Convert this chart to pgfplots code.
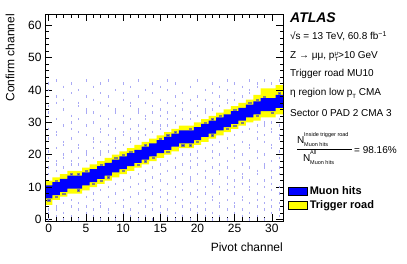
\documentclass[border=0pt]{standalone}
\usepackage{fontspec}
\setmainfont{Liberation Sans}
\usepackage{pgfplots}
\pgfplotsset{compat=1.18}
\usepackage{pgfplotstable}

\definecolor{rootblue}{RGB}{0,0,255}
\definecolor{rootyellow}{RGB}{255,255,0}
\definecolor{dotcol}{RGB}{170,170,245}
\definecolor{darkcell}{RGB}{40,40,215}

% trigger road outline: lower edge left->right, upper edge right->left (const plot)
\pgfplotstableread{
x y
-0.5 4.5
0.5 6
1.5 7
2.5 8
3.5 8
4.5 9
5.5 10
6.5 11
7.5 12
8.5 13
9.5 14
10.5 15
11.5 16
12.5 17
13.5 18
14.5 19
15.5 20
16.5 21
17.5 22
18.5 22
19.5 23
20.5 24
21.5 25
22.5 26
23.5 27
24.5 28
25.5 29
26.5 30
27.5 30.5
28.5 31.5
29.5 31.5
30.5 32.5
31.5 32.5
31.5 41.5
30.5 40.5
29.5 40.5
28.5 38.5
27.5 37
26.5 36
25.5 35
24.5 34
23.5 33
22.5 32
21.5 31
20.5 30
19.5 29
18.5 29
17.5 28
16.5 27
15.5 26
14.5 25
13.5 24
12.5 23
11.5 22
10.5 21
9.5 20
8.5 19
7.5 18
6.5 17
5.5 16
4.5 15
3.5 15
2.5 14
1.5 13
0.5 12
-0.5 4.5
}\road

% muon hits band outline
\pgfplotstableread{
x y
-0.5 6.5
0.5 7.5
1.5 8.5
2.5 9.5
3.5 9.5
4.5 10.5
5.5 11.5
6.5 12.5
7.5 13.5
8.5 14.5
9.5 15.5
10.5 16.5
11.5 17.5
12.5 18.5
13.5 19.5
14.5 20.5
15.5 21.5
16.5 22.5
17.5 23.5
18.5 23.5
19.5 24.5
20.5 25.5
21.5 26.5
22.5 27.5
23.5 28.5
24.5 29.5
25.5 30.5
26.5 31.5
27.5 32.5
28.5 33.5
29.5 33.5
30.5 34.5
31.5 34.5
31.5 38.5
30.5 37.5
29.5 37.5
28.5 36.5
27.5 35.5
26.5 34.5
25.5 33.5
24.5 32.5
23.5 31.5
22.5 30.5
21.5 29.5
20.5 28.5
19.5 27.5
18.5 27.5
17.5 26.5
16.5 25.5
15.5 24.5
14.5 23.5
13.5 22.5
12.5 21.5
11.5 20.5
10.5 19.5
9.5 18.5
8.5 17.5
7.5 16.5
6.5 15.5
5.5 14.5
4.5 13.5
3.5 13.5
2.5 12.5
1.5 11.5
0.5 10.5
-0.5 6.5
}\hits

% small low-count cells next to the muon-hit band
\pgfplotstableread{
p c
0 6
1 12
2 8
3 14
4 9
5 15
6 11
7 17
8 13
9 19
10 15
11 21
12 17
13 23
14 19
15 25
16 21
17 27
18 23
19 28
20 24
21 30
22 26
23 32
24 28
25 34
26 30
27 36
28 32
29 38
30 33
31 39
1 7
4 14
7 12
10 20
13 18
16 26
19 23
22 31
25 29
28 37
}\edgecells

% sparse hits outside the road
\pgfplotstableread{
p c
0 0
0 2
0 3
0 14
0 16
0 19
0 21
0 25
0 28
0 33
0 35
0 40
0 42
1 1
1 3
1 4
1 15
1 17
1 18
1 22
1 26
1 27
1 31
1 36
1 38
1 43
2 0
2 2
2 5
2 16
2 19
2 20
2 23
2 24
2 29
2 34
2 37
2 41
3 1
3 4
3 6
3 17
3 18
3 21
3 25
3 28
3 30
3 32
3 39
3 42
4 0
4 3
4 5
4 17
4 19
4 22
4 23
4 27
4 31
4 35
4 36
4 40
5 2
5 4
5 7
5 18
5 20
5 21
5 26
5 29
5 33
5 34
5 38
5 43
6 1
6 3
6 6
6 8
6 19
6 22
6 24
6 25
6 30
6 33
6 37
6 41
7 0
7 4
7 5
7 9
7 20
7 21
7 24
7 27
7 28
7 32
7 36
7 39
7 42
8 2
8 3
8 7
8 10
8 21
8 23
8 26
8 29
8 31
8 35
8 38
8 43
9 0
9 1
9 5
9 8
9 11
9 22
9 24
9 25
9 28
9 33
9 34
9 40
10 2
10 4
10 6
10 9
10 12
10 23
10 26
10 27
10 30
10 32
10 37
10 39
10 42
11 1
11 3
11 7
11 10
11 13
11 24
11 25
11 28
11 31
11 35
11 36
11 41
12 0
12 2
12 5
12 8
12 11
12 14
12 25
12 27
12 29
12 33
12 34
12 38
12 43
13 1
13 4
13 6
13 9
13 12
13 15
13 26
13 28
13 31
13 32
13 36
13 40
14 0
14 3
14 5
14 8
14 10
14 13
14 16
14 27
14 30
14 33
14 35
14 39
14 42
15 2
15 4
15 7
15 9
15 12
15 14
15 17
15 28
15 29
15 32
15 34
15 37
15 41
16 1
16 3
16 6
16 8
16 11
16 15
16 18
16 29
16 31
16 33
16 36
16 40
16 43
17 0
17 2
17 5
17 7
17 10
17 13
17 16
17 19
17 30
17 32
17 35
17 38
17 42
18 1
18 4
18 6
18 9
18 11
18 14
18 17
18 20
18 31
18 34
18 36
18 39
19 0
19 3
19 5
19 8
19 12
19 13
19 16
19 18
19 20
19 31
19 33
19 37
19 41
20 2
20 4
20 7
20 9
20 11
20 14
20 17
20 19
20 21
20 32
20 35
20 38
20 43
21 1
21 3
21 5
21 8
21 10
21 13
21 15
21 18
21 22
21 33
21 34
21 37
21 40
22 0
22 2
22 6
22 7
22 11
22 12
22 16
22 19
22 21
22 23
22 34
22 36
22 39
22 42
23 1
23 4
23 5
23 8
23 10
23 14
23 15
23 17
23 20
23 24
23 35
23 38
23 41
24 0
24 3
24 6
24 9
24 11
24 13
24 16
24 18
24 22
24 25
24 36
24 37
24 40
24 43
25 2
25 4
25 5
25 8
25 10
25 12
25 15
25 19
25 21
25 23
25 26
25 37
25 39
25 42
26 1
26 3
26 6
26 7
26 11
26 13
26 14
26 17
26 20
26 24
26 27
26 38
26 41
27 0
27 2
27 5
27 9
27 10
27 12
27 16
27 18
27 22
27 23
27 28
27 39
27 40
27 43
28 1
28 4
28 6
28 8
28 11
28 14
28 15
28 19
28 21
28 25
28 27
28 29
28 41
28 42
29 0
29 3
29 5
29 7
29 10
29 12
29 16
29 17
29 20
29 24
29 26
29 29
29 30
29 43
30 2
30 4
30 6
30 9
30 11
30 13
30 15
30 18
30 22
30 23
30 27
30 28
30 30
30 42
31 1
31 3
31 5
31 8
31 10
31 14
31 16
31 19
31 21
31 25
31 26
31 29
31 31
31 43
}\sparsehits

\newcommand{\supsub}[2]{\rlap{\raisebox{0.65ex}{\fontsize{6}{6}\selectfont #1}}\raisebox{-0.45ex}{\fontsize{6}{6}\selectfont #2}}

\begin{document}
\begin{tikzpicture}[x=1pt,y=1pt]
\useasboundingbox (-45,-43) rectangle (362,221);
\begin{axis}[
  scale only axis, width=238pt, height=207pt,
  at={(0,0)}, anchor=south west,
  xmin=-0.5, xmax=31.5, ymin=-0.5, ymax=63.5,
  xtick distance=5, ytick distance=10,
  minor x tick num=4, minor y tick num=4,
  tick align=inside,
  major tick length=7pt, minor tick length=3.5pt,
  tick style={black, line width=0.6pt},
  axis line style={line width=0.8pt},
  ticklabel style={font=\fontsize{12}{14}\selectfont},
  /pgf/number format/assume math mode=true,
  axis on top,
  legend cell align=left,
  legend style={at={(1.021,0.175)}, anchor=north west, draw=none, fill=none,
    inner sep=0pt, font=\fontsize{11}{12}\selectfont\bfseries, row sep=0.5pt},
  legend image code/.code={\draw[#1, line width=0.6pt] (0pt,-4pt) rectangle (19pt,4pt);},
]
\addplot[only marks, mark=|, mark size=1.2pt, dotcol, mark options={line width=0.8pt}, forget plot] table[x=p,y=c]{\sparsehits};
\addplot[const plot, fill=rootyellow, draw=none, forget plot] table[x=x,y=y]{\road};
\addplot[only marks, mark=square*, mark size=0.7pt, mark options={xscale=1.6, fill=darkcell, draw=gray, line width=0.3pt}, forget plot] table[x=p,y=c]{\edgecells};
\addplot[const plot, fill=rootblue, draw=none, forget plot] table[x=x,y=y]{\hits};
\addlegendimage{fill=rootblue, draw=black}
\addlegendentry{Muon hits}
\addlegendimage{fill=rootyellow, draw=black}
\addlegendentry{Trigger road}
\end{axis}
% axis titles
\node[rotate=90, anchor=east, font=\fontsize{12}{14}\selectfont, inner sep=0pt] at (-35,207) {Confirm channel};
\node[anchor=east, font=\fontsize{12}{14}\selectfont, inner sep=0pt] at (238,-26) {Pivot channel};
% annotations
\node[anchor=base west, inner sep=0pt, font=\fontsize{14}{16}\selectfont\bfseries\itshape] at (245,198) {ATLAS};
\node[anchor=base west, inner sep=0pt, font=\fontsize{10}{12}\selectfont] at (245,181) {√s = 13 TeV, 60.8 fb\textsuperscript{−1}};
\node[anchor=base west, inner sep=0pt, font=\fontsize{10}{12}\selectfont] at (245,162) {Z → μμ, p\supsub{μ}{T}>10 GeV};
\node[anchor=base west, inner sep=0pt, font=\fontsize{10}{12}\selectfont] at (245,144) {Trigger road MU10};
\node[anchor=base west, inner sep=0pt, font=\fontsize{10}{12}\selectfont] at (245,125) {η region low p\raisebox{-0.45ex}{\fontsize{6}{6}\selectfont T} CMA};
\node[anchor=base west, inner sep=0pt, font=\fontsize{10}{12}\selectfont] at (245,104) {Sector 0 PAD 2 CMA 3};
% efficiency fraction
\node[anchor=base west, inner sep=0pt, font=\fontsize{10}{12}\selectfont] at (252,77) {N};
\node[anchor=base west, inner sep=0pt, font=\fontsize{5.5}{6}\selectfont] at (259,84) {Inside trigger road};
\node[anchor=base west, inner sep=0pt, font=\fontsize{5.5}{6}\selectfont] at (259,74) {Muon hits};
\draw[line width=0.5pt] (252,71.5) -- (307,71.5);
\node[anchor=base west, inner sep=0pt, font=\fontsize{10}{12}\selectfont] at (258,59.5) {N};
\node[anchor=base west, inner sep=0pt, font=\fontsize{5.5}{6}\selectfont] at (265,66) {All};
\node[anchor=base west, inner sep=0pt, font=\fontsize{5.5}{6}\selectfont] at (265,56.5) {Muon hits};
\node[anchor=base west, inner sep=0pt, font=\fontsize{10}{12}\selectfont] at (309,67.5) {= 98.16\%};
\end{tikzpicture}
\end{document}
